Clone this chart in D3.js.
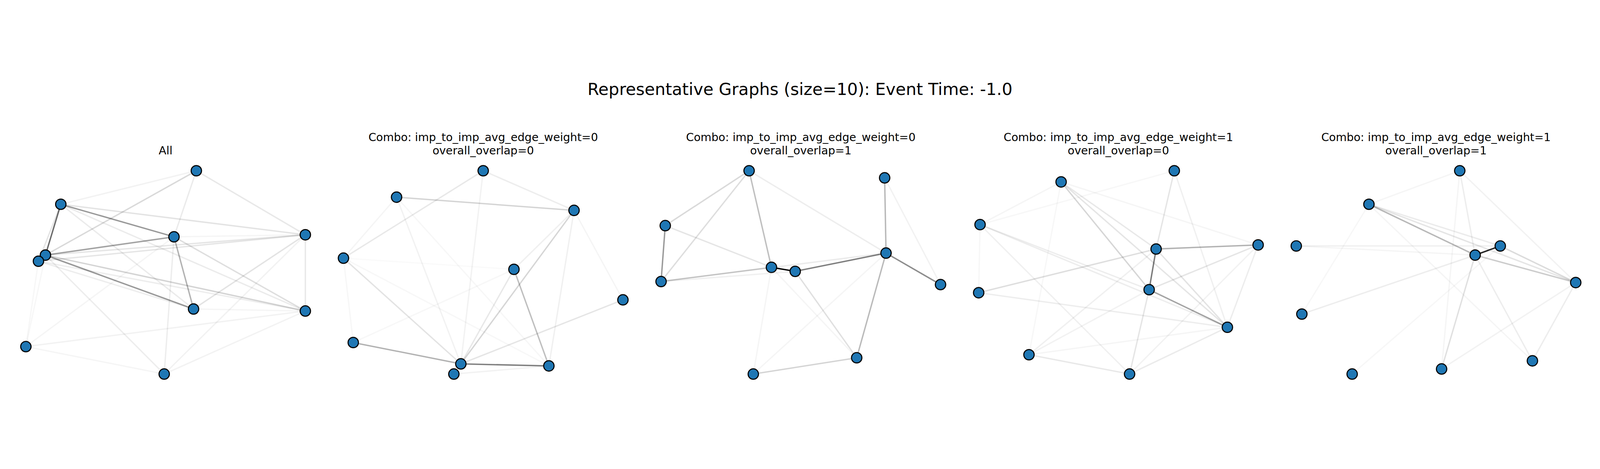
<!DOCTYPE html>
<html>
<head>
<meta charset="utf-8">
<script src="https://cdn.jsdelivr.net/npm/d3@7"></script>
<style>
  html, body { margin: 0; padding: 0; background: #fff; overflow: hidden; }
  #chart svg { display: block; width: 100vw; height: 100vh; }
  text { font-family: "DejaVu Sans", sans-serif; fill: #000; }
</style>
</head>
<body>
<div id="chart"></div>
<script>
// === Chart text ===
const mainTitle = "Representative Graphs (size=10): Event Time: -1.0";
const panelTitles = [
    ["All"],
    ["Combo: imp_to_imp_avg_edge_weight=0", "overall_overlap=0"],
    ["Combo: imp_to_imp_avg_edge_weight=0", "overall_overlap=1"],
    ["Combo: imp_to_imp_avg_edge_weight=1", "overall_overlap=0"],
    ["Combo: imp_to_imp_avg_edge_weight=1", "overall_overlap=1"]
];

// === Node layouts (x, y in layout units, y up) ===
const nodesAll = [
    [0.22, 1.00], [-0.75, 0.67], [0.06, 0.35], [1.00, 0.37], [-0.86, 0.17],
    [-0.91, 0.11], [0.20, -0.36], [1.00, -0.38], [-1.00, -0.73], [-0.01, -1.00]
];
const nodesW0O0 = [
    [0.00, 1.00], [-0.62, 0.74], [0.65, 0.61], [-1.00, 0.14], [0.22, 0.03],
    [1.00, -0.27], [-0.93, -0.69], [-0.16, -0.90], [-0.21, -1.00], [0.47, -0.92]
];
const nodesW0O1 = [
    [-0.37, 1.00], [0.60, 0.93], [-0.97, 0.46], [0.61, 0.19], [-0.21, 0.05],
    [-0.04, 0.01], [-1.00, -0.09], [1.00, -0.12], [0.40, -0.84], [-0.34, -1.00]
];
const nodesW1O0 = [
    [0.40, 1.00], [-0.41, 0.89], [-0.99, 0.47], [1.00, 0.27], [0.27, 0.23],
    [0.22, -0.17], [-1.00, -0.20], [0.78, -0.54], [-0.64, -0.81], [0.08, -1.00]
];
const nodesW1O1 = [
    [0.17, 1.00], [-0.48, 0.67], [-1.00, 0.26], [0.46, 0.26], [0.28, 0.17],
    [1.00, -0.10], [-0.96, -0.41], [0.69, -0.87], [0.04, -0.95], [-0.60, -1.00]
];

// === Edges: [source, target, normalised weight] ===
const edgesAll = [
    [1, 4, 0.58], [1, 2, 0.40], [4, 2, 0.36], [4, 6, 0.40], [2, 6, 0.30],
    [4, 7, 0.17], [4, 3, 0.10], [5, 3, 0.10], [0, 4, 0.15], [0, 1, 0.05],
    [0, 3, 0.09], [0, 2, 0.08], [2, 9, 0.07], [1, 3, 0.11], [1, 6, 0.08],
    [1, 7, 0.08], [1, 5, 0.10], [2, 7, 0.13], [2, 3, 0.04], [3, 7, 0.09],
    [3, 6, 0.11], [3, 9, 0.05], [6, 7, 0.04], [7, 9, 0.05], [7, 8, 0.05],
    [8, 9, 0.04], [5, 8, 0.03], [4, 8, 0.03], [8, 2, 0.04], [5, 6, 0.07],
    [5, 7, 0.07], [4, 9, 0.07]
];
const edgesW0O0 = [
    [7, 9, 0.50], [6, 7, 0.30], [4, 9, 0.25], [1, 2, 0.17], [2, 7, 0.16],
    [3, 7, 0.11], [3, 0, 0.09], [0, 2, 0.07], [0, 7, 0.05], [5, 7, 0.10],
    [4, 7, 0.09], [2, 4, 0.06], [2, 9, 0.06], [2, 5, 0.04], [1, 7, 0.05],
    [1, 3, 0.04], [1, 9, 0.03], [3, 4, 0.02], [3, 6, 0.03], [8, 9, 0.05],
    [6, 4, 0.03], [3, 9, 0.03]
];
const edgesW0O1 = [
    [4, 5, 1.00], [5, 3, 0.50], [3, 7, 0.45], [2, 6, 0.40], [1, 3, 0.28],
    [0, 4, 0.25], [3, 8, 0.27], [0, 2, 0.15], [0, 6, 0.13], [6, 4, 0.17],
    [6, 5, 0.06], [6, 3, 0.08], [2, 4, 0.10], [0, 3, 0.07], [5, 8, 0.12],
    [8, 9, 0.17], [4, 9, 0.04], [9, 3, 0.04], [1, 7, 0.05], [4, 8, 0.04]
];
const edgesW1O0 = [
    [4, 5, 0.52], [5, 7, 0.36], [4, 3, 0.30], [1, 5, 0.16], [6, 4, 0.13],
    [0, 4, 0.10], [1, 7, 0.10], [1, 4, 0.09], [2, 7, 0.07], [2, 5, 0.07],
    [4, 7, 0.11], [5, 3, 0.10], [5, 9, 0.10], [6, 7, 0.07], [8, 9, 0.09],
    [9, 7, 0.08], [0, 7, 0.06], [3, 7, 0.07], [2, 6, 0.03], [2, 1, 0.04],
    [1, 3, 0.04], [8, 4, 0.06], [8, 1, 0.03], [2, 9, 0.06], [9, 3, 0.05],
    [8, 5, 0.05], [8, 7, 0.04], [2, 0, 0.03]
];
const edgesW1O1 = [
    [3, 4, 0.85], [1, 4, 0.28], [4, 5, 0.20], [3, 5, 0.14], [1, 5, 0.10],
    [1, 3, 0.08], [2, 3, 0.06], [2, 4, 0.04], [4, 6, 0.07], [4, 8, 0.12],
    [0, 4, 0.07], [0, 1, 0.04], [0, 5, 0.05], [0, 8, 0.04], [4, 7, 0.07],
    [5, 7, 0.07], [5, 8, 0.05], [1, 6, 0.03], [1, 7, 0.04], [3, 9, 0.03]
];

const panelNodes = [nodesAll, nodesW0O0, nodesW0O1, nodesW1O0, nodesW1O1];
const panelEdges = [edgesAll, edgesW0O0, edgesW0O1, edgesW1O0, edgesW1O1];

// === Figure geometry (drawn in 6000x1200 units, scaled to the window) ===
const figWidth = 6000, figHeight = 1200;
const panelStep = 1191;        // distance between panel centres
const firstCenter = 621;       // centre of the first panel
const halfSpan = 524;          // half of the node spread in x
const plotTop = 361, plotBottom = 1123;
const nodeColor = "#1f77b4";

const svg = d3.select("#chart")
    .append("svg")
    .attr("viewBox", `0 0 ${figWidth} ${figHeight}`)
    .attr("preserveAspectRatio", "xMidYMid meet");

svg.append("rect")
    .attr("width", figWidth)
    .attr("height", figHeight)
    .attr("fill", "#fff");

// Figure title
svg.append("text")
    .attr("x", figWidth / 2)
    .attr("y", 77)
    .attr("text-anchor", "middle")
    .style("font-size", "62.5px")
    .text(mainTitle);

panelNodes.forEach((nodes, p) => {
    const cx = firstCenter + p * panelStep;
    const g = svg.append("g");

    const x = d3.scaleLinear()
        .domain(d3.extent(nodes, d => d[0]))
        .range([cx - halfSpan, cx + halfSpan]);
    const y = d3.scaleLinear()
        .domain(d3.extent(nodes, d => d[1]))
        .range([plotBottom, plotTop]);

    // Subplot title, last line sits on the same baseline for every panel
    const lines = panelTitles[p];
    g.append("text")
        .attr("text-anchor", "middle")
        .style("font-size", "41.7px")
        .selectAll("tspan")
        .data(lines)
        .join("tspan")
        .attr("x", cx)
        .attr("y", (d, i) => 300 - (lines.length - 1 - i) * 50)
        .text(d => d);

    // Edges: black, opacity by weight
    g.append("g")
        .selectAll("line")
        .data(panelEdges[p])
        .join("line")
        .attr("x1", d => x(nodes[d[0]][0]))
        .attr("y1", d => y(nodes[d[0]][1]))
        .attr("x2", d => x(nodes[d[1]][0]))
        .attr("y2", d => y(nodes[d[1]][1]))
        .attr("stroke", "#000")
        .attr("stroke-opacity", d => d[2])
        .attr("stroke-width", 5.2)
        .attr("stroke-linecap", "butt");

    // Nodes
    g.append("g")
        .selectAll("circle")
        .data(nodes)
        .join("circle")
        .attr("cx", d => x(d[0]))
        .attr("cy", d => y(d[1]))
        .attr("r", 19.5)
        .attr("fill", nodeColor)
        .attr("stroke", "#000")
        .attr("stroke-width", 4);
});
</script>
</body>
</html>
